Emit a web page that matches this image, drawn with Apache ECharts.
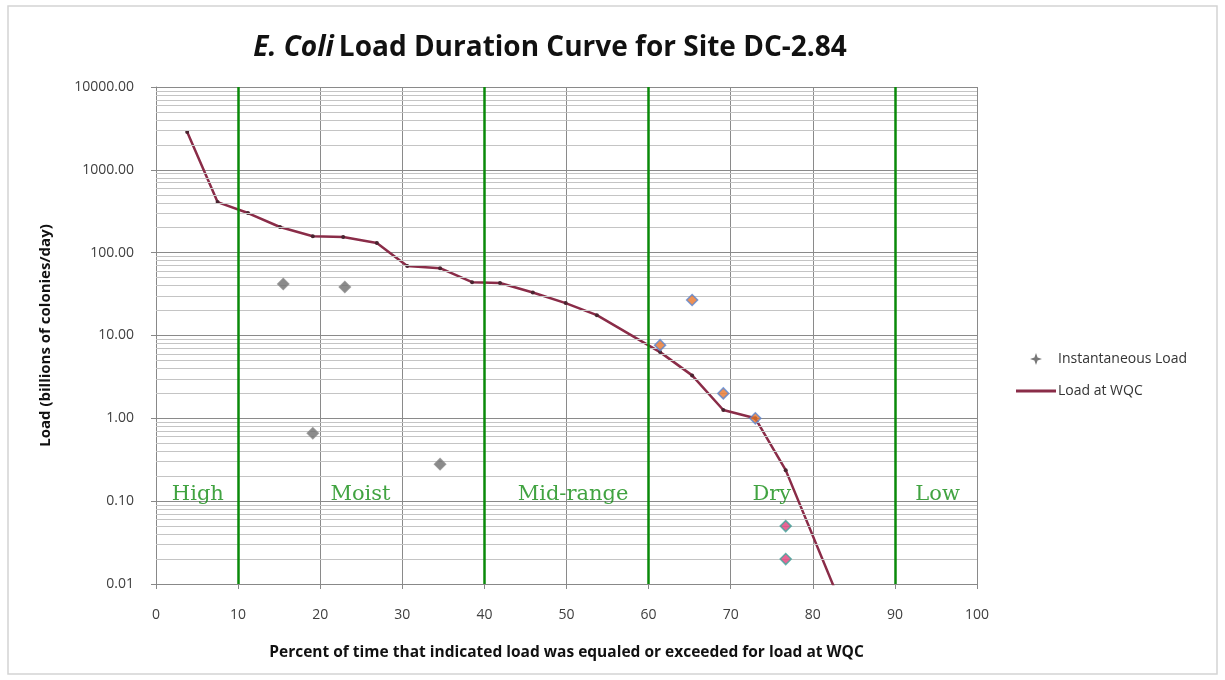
<!DOCTYPE html>
<html>
<head>
<meta charset="utf-8">
<script src="https://cdn.jsdelivr.net/npm/echarts@6/dist/echarts.min.js"></script>
<style>
  html, body { margin: 0; padding: 0; background: #fff; }
  #chart { width: 1225px; height: 680px; }
</style>
</head>
<body>
<div id="chart"></div>
<script>
// Load at WQC curve (percent exceedance, billions of colonies/day)
const wqcPct  = [3.8, 7.5, 11.2, 15.1, 19.1, 22.8, 26.9, 30.6, 34.6, 38.5, 41.9, 45.9, 49.9, 53.7, 61.4, 65.3, 69.1, 73.0, 76.7, 84.6];
const wqcLoad = [2860, 408, 301, 204, 158, 155, 131, 69, 65, 44, 43, 33, 24.6, 17.6, 6.3, 3.3, 1.26, 1.0, 0.237, 0.003];

// instantaneous load samples
const obsPct  = [15.5, 19.1, 23.0, 34.6, 61.4, 65.3, 69.1, 73.0, 76.7, 76.7];
const obsLoad = [41.8, 0.66, 38.5, 0.28, 7.65, 26.8, 2.0, 1.0, 0.05, 0.02];
const obsKind = ["g", "g", "g", "g", "o", "o", "o", "o", "p", "p"];

// flow zones
const zoneBounds = [10, 40, 60, 90];
const zoneNames  = ["High", "Moist", "Mid-range", "Dry", "Low"];
const zoneCenter = [5.1, 24.9, 50.8, 75.0, 95.2];
const zoneLabelY = 0.1;

const yTicks = [0.01, 0.1, 1, 10, 100, 1000, 10000];

// minor horizontal gridlines 2..9 in each decade
let minorY = [];
for (let d = 0; d < yTicks.length - 1; d++) {
  for (let m = 2; m <= 9; m++) minorY.push(+(yTicks[d] * m).toPrecision(3));
}

const kindStyle = {
  g: { color: "#6e6e6e", borderColor: "#8a8a8a" },
  o: { color: "#e8762c", borderColor: "#5b86cf" },
  p: { color: "#e2407a", borderColor: "#3fa49a" },
};

let chart = echarts.init(document.getElementById("chart"));
let option = {
  animation: false,
  backgroundColor: "#fff",
  graphic: [
    {
      type: "rect",
      shape: { x: 8, y: 6, width: 1209, height: 668 },
      style: { fill: "none", stroke: "#d4d4d4", lineWidth: 1.5 },
      silent: true,
    },
  ],
  title: {
    text: "{i|E. Coli} {b|Load Duration Curve for Site DC-2.84}",
    left: 545,
    textAlign: "center",
    top: 29,
    textStyle: {
      rich: {
        i: { fontFamily: "Open Sans", fontSize: 28, fontWeight: "bold", fontStyle: "italic", color: "#111" },
        b: { fontFamily: "Open Sans", fontSize: 28, fontWeight: "bold", color: "#111" },
      },
    },
  },
  legend: {
    orient: "vertical",
    left: 1016,
    top: 352,
    padding: 0,
    itemGap: 18,
    itemWidth: 40,
    itemHeight: 12,
    textStyle: { fontFamily: "Open Sans", fontSize: 14, color: "#333", padding: [0, 0, 0, -3] },
    data: [
      {
        name: "Instantaneous Load",
        icon: "path://M5,0L6.3,3.7L10,5L6.3,6.3L5,10L3.7,6.3L0,5L3.7,3.7Z",
        itemStyle: { color: "#555" },
      },
      { name: "Load at WQC", icon: "path://M0,0H40V3H0Z", itemStyle: { color: "#8a2c48" } },
    ],
  },
  grid: { left: 156, right: 248, top: 87, bottom: 96 },
  xAxis: {
    type: "value",
    min: 0,
    max: 100,
    interval: 10,
    name: "Percent of time that indicated load was equaled or exceeded for load at WQC",
    nameLocation: "middle",
    nameGap: 61,
    nameTextStyle: { fontFamily: "Open Sans", fontSize: 15.5, fontWeight: "bold", color: "#111" },
    axisLine: { lineStyle: { color: "#888" } },
    axisTick: { show: true, length: 5, lineStyle: { color: "#888" } },
    axisLabel: { margin: 24, fontFamily: "Open Sans", fontSize: 14, color: "#404040" },
    splitLine: { show: true, lineStyle: { color: "#8a8a8a" } },
  },
  yAxis: {
    type: "log",
    logBase: 10,
    min: 0.01,
    max: 10000,
    name: "Load (billions of colonies/day)",
    nameLocation: "middle",
    nameGap: 103,
    nameTextStyle: { fontFamily: "Open Sans", fontSize: 15, fontWeight: "bold", color: "#111" },
    axisLine: { show: true, lineStyle: { color: "#888" } },
    axisTick: { show: true, length: 5, lineStyle: { color: "#888" } },
    axisLabel: {
      margin: 22,
      fontFamily: "Open Sans",
      fontSize: 14,
      color: "#404040",
      formatter: (v) => v.toFixed(2),
    },
    splitLine: { show: true, lineStyle: { color: "#8a8a8a" } },
  },
  series: [
    {
      name: "grid",
      type: "line",
      data: [],
      z: 1,
      silent: true,
      markLine: {
        silent: true,
        symbol: "none",
        label: { show: false },
        animation: false,
        lineStyle: { color: "#c4c4c4", width: 1, type: "solid" },
        data: minorY.map((v) => ({ yAxis: v })),
      },
    },
    {
      name: "zones",
      type: "line",
      data: [],
      z: 2,
      silent: true,
      markLine: {
        silent: true,
        symbol: "none",
        label: { show: false },
        animation: false,
        lineStyle: { color: "#0a8a0a", width: 2.5, type: "solid" },
        data: zoneBounds.map((v) => ({ xAxis: v })),
      },
    },
    {
      name: "zoneLabels",
      type: "scatter",
      z: 2,
      silent: true,
      symbolSize: 0,
      data: zoneNames.map((n, i) => ({ name: n, value: [zoneCenter[i], zoneLabelY] })),
      label: {
        show: true,
        position: "top",
        distance: -4,
        formatter: (p) => p.name,
        fontFamily: "DejaVu Serif",
        fontSize: 21,
        color: "#118c11",
      },
    },
    {
      name: "Load at WQC",
      type: "line",
      z: 4,
      clip: true,
      data: wqcPct.map((x, i) => [x, wqcLoad[i]]),
      symbol: "circle",
      symbolSize: 4,
      showSymbol: true,
      lineStyle: { color: "#8a2c48", width: 2.5 },
      itemStyle: { color: "#4a2430" },
    },
    {
      name: "Instantaneous Load",
      type: "scatter",
      z: 5,
      symbol: "diamond",
      symbolSize: 11,
      data: obsPct.map((x, i) => ({
        value: [x, obsLoad[i]],
        itemStyle: { color: kindStyle[obsKind[i]].color, borderColor: kindStyle[obsKind[i]].borderColor, borderWidth: 1.5 },
      })),
      itemStyle: { color: "#6e6e6e" },
    },
  ],
};
chart.setOption(option);
</script>
</body>
</html>
